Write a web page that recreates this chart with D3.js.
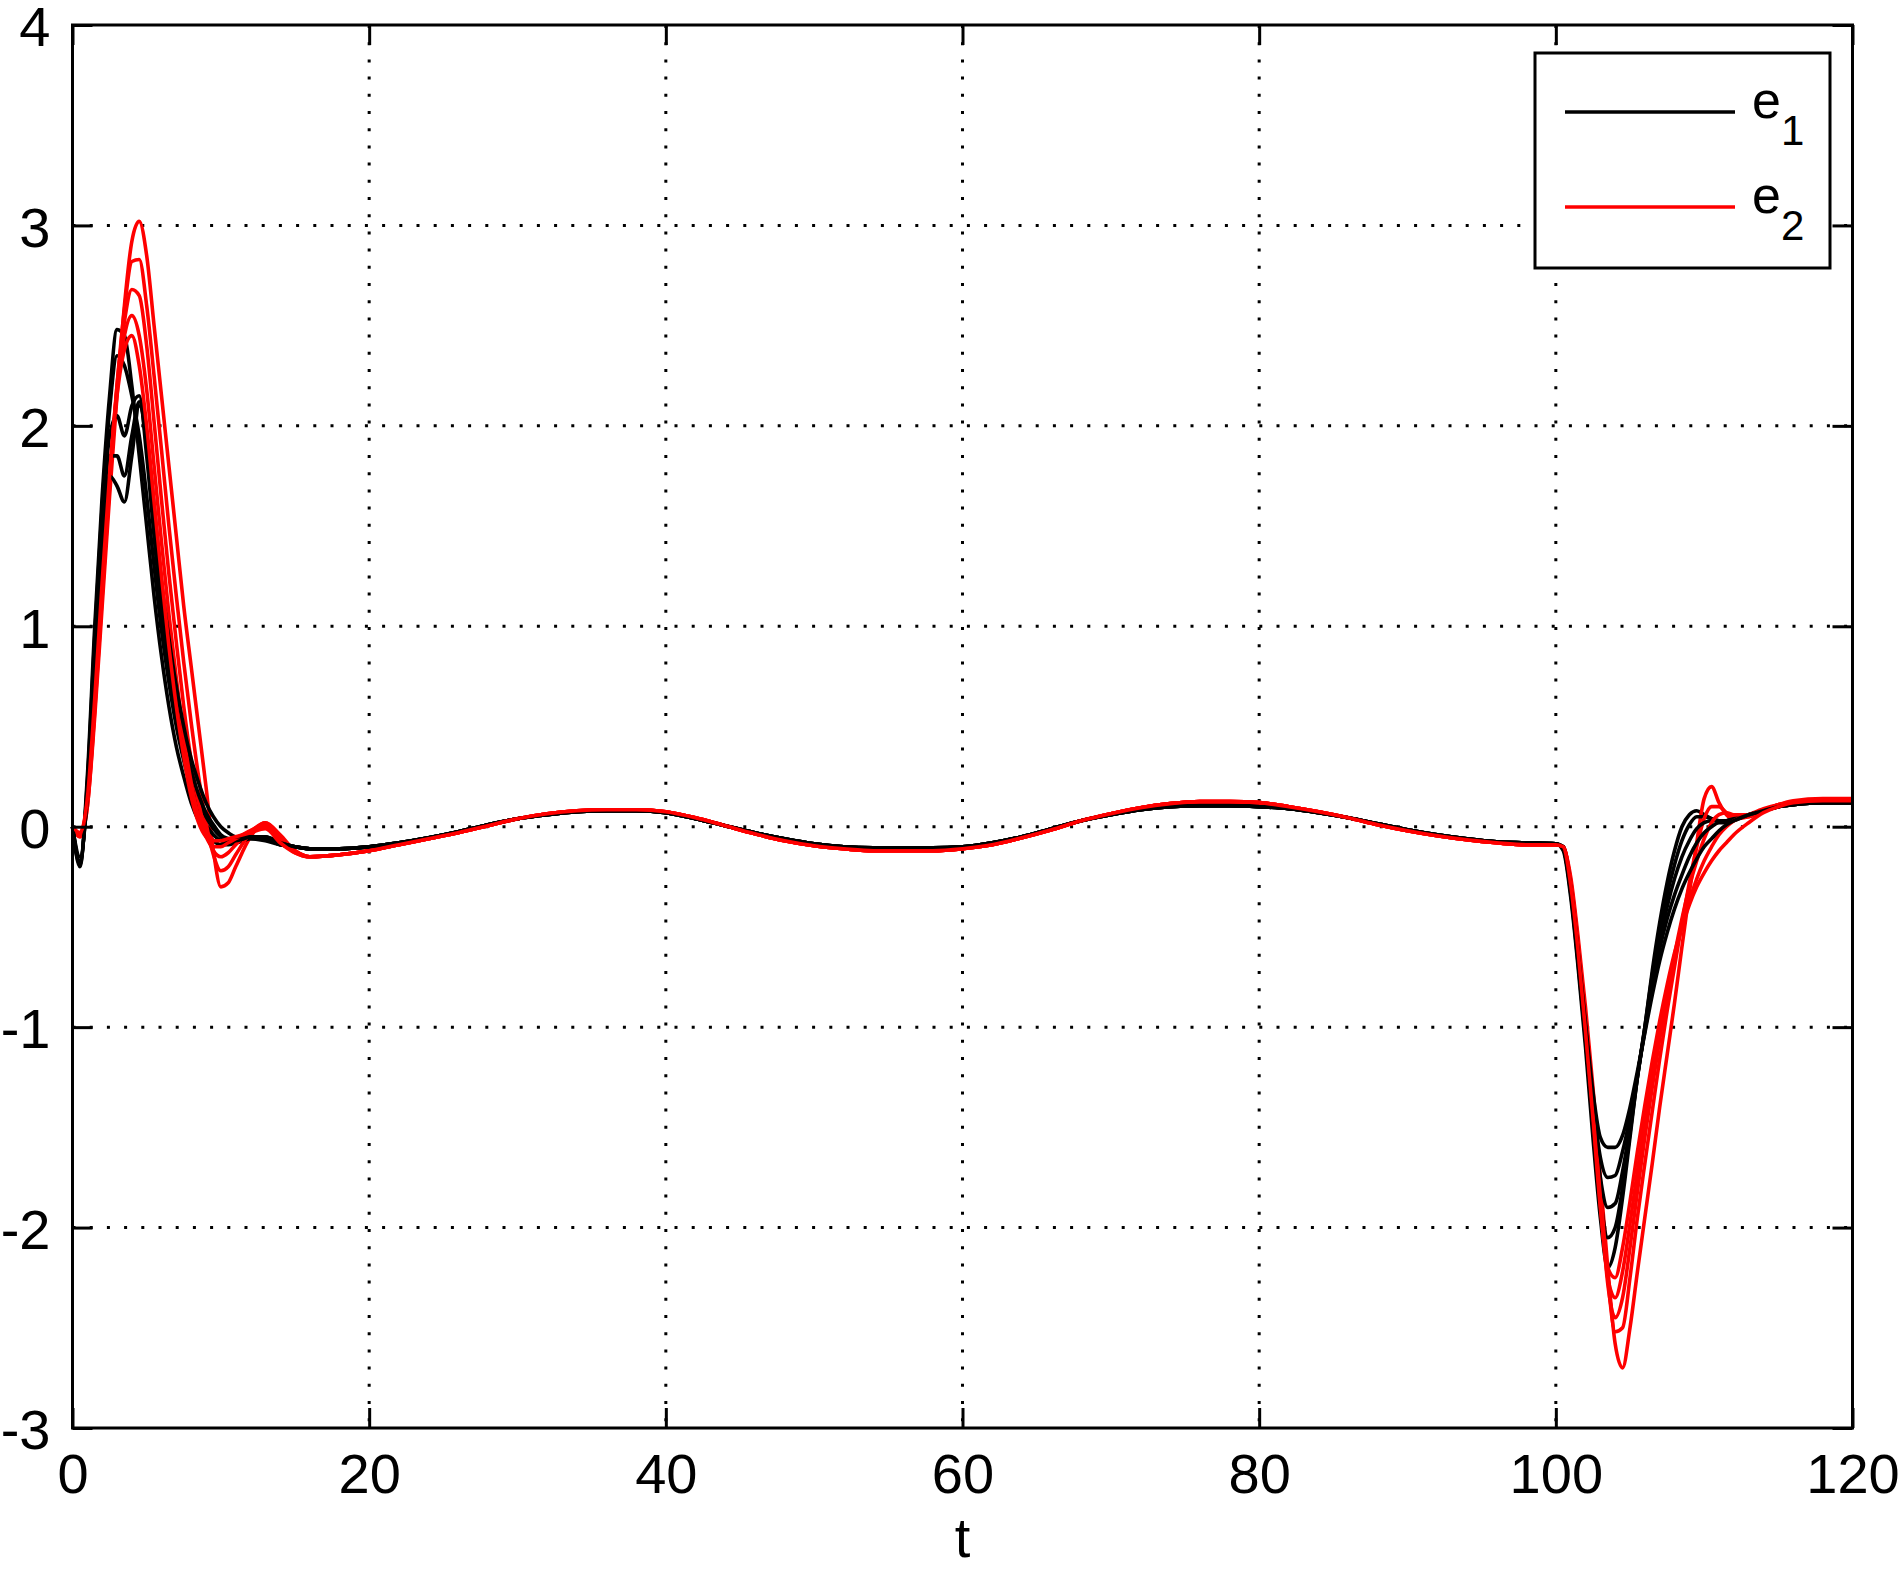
<!DOCTYPE html>
<html>
<head>
<meta charset="utf-8">
<script src="https://cdn.jsdelivr.net/npm/d3@7"></script>
<style>
  html, body { margin: 0; padding: 0; background: #fff; }
  svg { display: block; }
  text { font-family: "Liberation Sans", Arial, Helvetica, sans-serif; fill: #000; }
</style>
</head>
<body>
<svg id="chart" width="1902" height="1571"></svg>
<script>
// ---------- data ----------
const xTicks = [0, 20, 40, 60, 80, 100, 120];
const yTicks = [-3, -2, -1, 0, 1, 2, 3, 4];
const xLabel = "t";
const seriesNames = ["e1", "e2"];
const seriesColors = ["#000000", "#ff0000"];

// start transient (t = 0..15)
const tStart = [0,0.5,1,1.5,2,2.5,3,3.5,4,4.5,5,5.5,6,6.5,7,7.5,8,8.5,9,9.5,10,10.5,11,12,13,14,15];
const e1Start = [
  [0,-0.2,0.25,1.0,1.65,2.15,2.48,2.45,2.2,1.85,1.5,1.15,0.85,0.6,0.4,0.25,0.12,0.03,-0.03,-0.07,-0.09,-0.09,-0.08,-0.06,-0.07,-0.09,-0.1],
  [0,-0.19,0.22,0.95,1.6,2.08,2.35,2.3,2.15,1.95,1.65,1.3,0.98,0.72,0.5,0.33,0.19,0.09,0.01,-0.04,-0.07,-0.08,-0.08,-0.06,-0.06,-0.09,-0.1],
  [0,-0.18,0.2,0.9,1.52,1.95,2.05,1.95,2.1,2.15,1.85,1.45,1.08,0.8,0.57,0.39,0.24,0.13,0.05,-0.01,-0.05,-0.07,-0.07,-0.05,-0.06,-0.09,-0.1],
  [0,-0.17,0.18,0.85,1.46,1.85,1.85,1.75,1.95,2.12,1.9,1.52,1.14,0.86,0.62,0.43,0.28,0.16,0.07,0.01,-0.04,-0.06,-0.07,-0.05,-0.05,-0.08,-0.1],
  [0,-0.15,0.15,0.8,1.4,1.75,1.7,1.62,1.85,2.1,1.95,1.6,1.22,0.94,0.7,0.5,0.34,0.22,0.12,0.05,0.0,-0.03,-0.05,-0.05,-0.05,-0.08,-0.1]
];
const e2Start = [
  [0,-0.05,0.1,0.55,1.1,1.65,2.15,2.6,2.92,3.02,2.85,2.5,2.15,1.8,1.45,1.1,0.8,0.5,0.2,-0.12,-0.3,-0.28,-0.2,-0.05,0.02,-0.04,-0.12],
  [0,-0.05,0.1,0.58,1.15,1.7,2.2,2.58,2.82,2.83,2.6,2.25,1.88,1.5,1.15,0.82,0.52,0.25,0.02,-0.14,-0.22,-0.2,-0.14,-0.03,0.02,-0.05,-0.12],
  [0,-0.04,0.12,0.6,1.18,1.73,2.2,2.52,2.68,2.65,2.4,2.02,1.63,1.26,0.92,0.6,0.33,0.12,-0.03,-0.12,-0.15,-0.13,-0.09,-0.02,0.01,-0.06,-0.12],
  [0,-0.04,0.13,0.62,1.2,1.75,2.18,2.45,2.55,2.45,2.18,1.8,1.42,1.06,0.74,0.45,0.22,0.05,-0.05,-0.1,-0.1,-0.08,-0.06,-0.02,0.0,-0.07,-0.13],
  [0,-0.03,0.14,0.64,1.22,1.75,2.15,2.38,2.45,2.3,2.0,1.62,1.25,0.9,0.6,0.35,0.15,0.02,-0.05,-0.07,-0.07,-0.06,-0.05,-0.03,-0.01,-0.08,-0.13]
];

// slow middle part (t = 16..98), common to every member of a family
const tMid = [16,18,20,22,24,26,28,30,32,34,36,38,40,42,44,46,48,50,52,54,56,58,60,62,64,66,68,70,72,74,76,78,80,82,84,86,88,90,92,94,96,98];
const e1Mid = [-0.11,-0.11,-0.10,-0.08,-0.055,-0.025,0.01,0.04,0.06,0.075,0.08,0.08,0.07,0.04,0.005,-0.03,-0.06,-0.085,-0.10,-0.105,-0.105,-0.105,-0.10,-0.08,-0.05,-0.01,0.03,0.06,0.085,0.10,0.105,0.105,0.10,0.09,0.07,0.045,0.015,-0.015,-0.04,-0.06,-0.075,-0.08];
const e2Mid = [-0.15,-0.14,-0.12,-0.09,-0.06,-0.03,0.005,0.04,0.065,0.08,0.085,0.085,0.075,0.045,0.005,-0.035,-0.07,-0.095,-0.11,-0.12,-0.12,-0.12,-0.11,-0.09,-0.055,-0.015,0.03,0.065,0.095,0.115,0.125,0.125,0.12,0.10,0.075,0.045,0.01,-0.02,-0.045,-0.065,-0.08,-0.09];

// end transient (t = 100..120)
const tEnd = [100,100.5,101,101.5,102,102.5,103,103.5,104,104.5,105,105.5,106,106.5,107,107.5,108,108.5,109,109.5,110,110.5,111,111.5,112,113,114,115,116,118,120];
const e1End = [
  [-0.085,-0.12,-0.35,-0.7,-1.1,-1.55,-1.95,-2.2,-2.1,-1.85,-1.55,-1.25,-1.0,-0.72,-0.48,-0.28,-0.12,0.0,0.06,0.08,0.06,0.04,0.03,0.03,0.04,0.06,0.08,0.1,0.11,0.12,0.12],
  [-0.085,-0.11,-0.33,-0.68,-1.06,-1.48,-1.85,-2.05,-2.0,-1.8,-1.53,-1.25,-1.0,-0.74,-0.52,-0.34,-0.19,-0.07,0.01,0.05,0.05,0.04,0.03,0.03,0.04,0.06,0.08,0.1,0.11,0.12,0.12],
  [-0.085,-0.11,-0.32,-0.66,-1.03,-1.42,-1.75,-1.9,-1.88,-1.72,-1.5,-1.25,-1.01,-0.77,-0.57,-0.4,-0.26,-0.15,-0.07,-0.01,0.02,0.03,0.03,0.03,0.04,0.06,0.08,0.1,0.11,0.12,0.12],
  [-0.085,-0.1,-0.31,-0.64,-1.0,-1.37,-1.65,-1.75,-1.74,-1.62,-1.45,-1.24,-1.02,-0.8,-0.61,-0.46,-0.34,-0.24,-0.15,-0.08,-0.03,0.0,0.02,0.02,0.03,0.06,0.08,0.1,0.11,0.12,0.12],
  [-0.085,-0.1,-0.3,-0.62,-0.98,-1.32,-1.55,-1.6,-1.6,-1.54,-1.4,-1.22,-1.03,-0.84,-0.67,-0.53,-0.41,-0.31,-0.23,-0.16,-0.1,-0.06,-0.02,0.01,0.03,0.06,0.08,0.1,0.11,0.12,0.12]
];
const e2End = [
  [-0.09,-0.1,-0.25,-0.55,-0.9,-1.3,-1.75,-2.2,-2.58,-2.7,-2.5,-2.22,-1.95,-1.68,-1.4,-1.14,-0.88,-0.6,-0.33,-0.08,0.14,0.2,0.12,0.06,0.04,0.05,0.08,0.11,0.13,0.14,0.14],
  [-0.09,-0.1,-0.27,-0.58,-0.95,-1.36,-1.8,-2.25,-2.52,-2.5,-2.25,-1.95,-1.68,-1.42,-1.16,-0.92,-0.7,-0.48,-0.28,-0.1,0.04,0.1,0.1,0.07,0.05,0.05,0.08,0.11,0.12,0.13,0.13],
  [-0.09,-0.1,-0.28,-0.6,-0.98,-1.4,-1.85,-2.28,-2.45,-2.35,-2.1,-1.82,-1.55,-1.3,-1.06,-0.84,-0.64,-0.46,-0.3,-0.17,-0.06,0.02,0.06,0.07,0.06,0.06,0.08,0.11,0.12,0.13,0.13],
  [-0.09,-0.1,-0.28,-0.6,-1.0,-1.42,-1.88,-2.25,-2.35,-2.22,-1.98,-1.72,-1.47,-1.24,-1.02,-0.82,-0.65,-0.5,-0.37,-0.26,-0.17,-0.1,-0.04,0.0,0.03,0.06,0.09,0.11,0.12,0.13,0.13],
  [-0.09,-0.1,-0.29,-0.62,-1.02,-1.45,-1.9,-2.2,-2.25,-2.1,-1.87,-1.62,-1.39,-1.17,-0.97,-0.79,-0.63,-0.5,-0.39,-0.3,-0.23,-0.17,-0.12,-0.08,-0.04,0.02,0.07,0.1,0.12,0.13,0.13]
];

// ---------- layout ----------
const W = 1902, H = 1571;
const L = 72.5, R = 1852.5, T = 25, B = 1428;
const FS = 56;

const svg = d3.select("#chart");
svg.append("rect").attr("width", W).attr("height", H).attr("fill", "#fff");

const x = d3.scaleLinear().domain([0, 120]).range([L, R]);
const y = d3.scaleLinear().domain([-3, 4]).range([B, T]);

// grid (dotted)
const grid = svg.append("g");
grid.selectAll("line.gx").data(xTicks.slice(1, -1)).join("line")
  .attr("x1", d => x(d)).attr("x2", d => x(d)).attr("y1", T).attr("y2", B)
  .attr("stroke", "#000").attr("stroke-width", 3).attr("stroke-dasharray", "3 14.2");
grid.selectAll("line.gy").data(yTicks.slice(1, -1)).join("line")
  .attr("y1", d => y(d)).attr("y2", d => y(d)).attr("x1", L).attr("x2", R)
  .attr("stroke", "#000").attr("stroke-width", 3).attr("stroke-dasharray", "3 14.2");

// curves
function buildCurve(s, m, e) {
  const pts = [];
  tStart.forEach((t, i) => pts.push([t, s[i]]));
  tMid.forEach((t, i) => pts.push([t, m[i]]));
  tEnd.forEach((t, i) => pts.push([t, e[i]]));
  return pts;
}
const line = d3.line().x(d => x(d[0])).y(d => y(d[1])).curve(d3.curveMonotoneX);
const curves = svg.append("g").attr("fill", "none").attr("stroke-width", 3.6).attr("stroke-linejoin", "round");
for (let i = 0; i < e1Start.length; i++) {
  curves.append("path").attr("d", line(buildCurve(e1Start[i], e1Mid, e1End[i]))).attr("stroke", seriesColors[0]);
  curves.append("path").attr("d", line(buildCurve(e2Start[i], e2Mid, e2End[i]))).attr("stroke", seriesColors[1]);
}

// axes with inward ticks
const tick = 20;
const fmt = d => String(d); // plain hyphen-minus like the reference
function styleAxis(g) {
  g.select(".domain").remove();
  g.selectAll(".tick line").attr("stroke", "#000").attr("stroke-width", 3);
  g.selectAll(".tick text").attr("font-size", FS).attr("fill", "#000")
    .style("font-family", "'Liberation Sans', Arial, Helvetica, sans-serif");
}
svg.append("g").attr("transform", `translate(0,${B})`)
  .call(d3.axisBottom(x).tickValues(xTicks).tickSize(-tick).tickPadding(25).tickFormat(fmt))
  .call(styleAxis);
svg.append("g").attr("transform", `translate(0,${T})`)
  .call(d3.axisTop(x).tickValues(xTicks).tickSize(-tick).tickFormat(""))
  .call(styleAxis);
svg.append("g").attr("transform", `translate(${L},0)`)
  .call(d3.axisLeft(y).tickValues(yTicks).tickSize(-tick).tickPadding(22).tickFormat(fmt))
  .call(styleAxis)
  .call(g => g.selectAll(".tick text").attr("dy", "0.37em"));
svg.append("g").attr("transform", `translate(${R},0)`)
  .call(d3.axisRight(y).tickValues(yTicks).tickSize(-tick).tickFormat(""))
  .call(styleAxis);

// box
svg.append("rect").attr("x", L).attr("y", T).attr("width", R - L).attr("height", B - T)
  .attr("fill", "none").attr("stroke", "#000").attr("stroke-width", 3);

// x label
svg.append("text").attr("x", (L + R) / 2).attr("y", 1557).attr("text-anchor", "middle")
  .attr("font-size", FS).text(xLabel);

// legend
const lg = svg.append("g");
lg.append("rect").attr("x", 1535).attr("y", 53).attr("width", 295).attr("height", 215)
  .attr("fill", "#fff").attr("stroke", "#000").attr("stroke-width", 3);
const legY = [112, 207];
seriesNames.forEach((n, i) => {
  lg.append("line").attr("x1", 1565).attr("x2", 1735).attr("y1", legY[i]).attr("y2", legY[i])
    .attr("stroke", seriesColors[i]).attr("stroke-width", 3.5);
  const t = lg.append("text").attr("x", 1752).attr("y", legY[i] + 6).attr("font-size", 52);
  t.append("tspan").text(n.charAt(0));
  t.append("tspan").attr("dy", 27).attr("font-size", 42).text(n.slice(1));
});
</script>
</body>
</html>
